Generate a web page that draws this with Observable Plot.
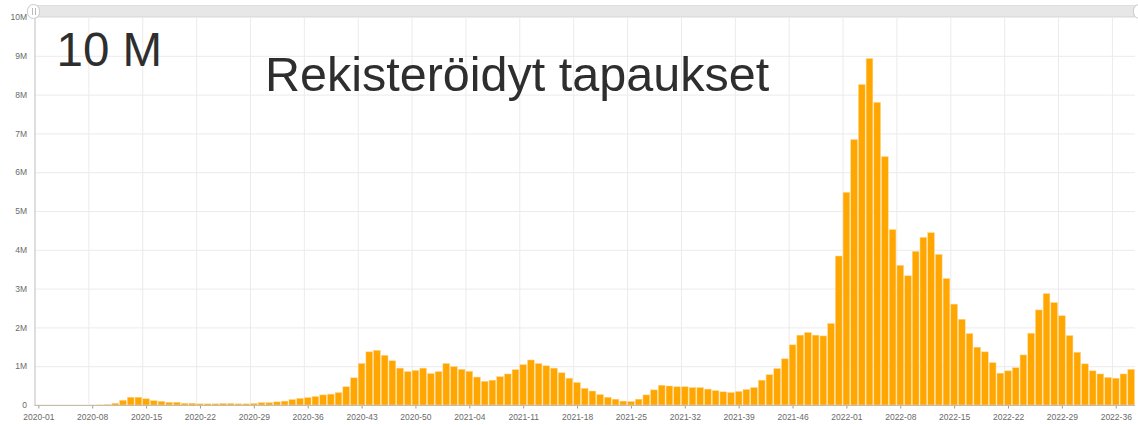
<!DOCTYPE html>
<html>
<head>
<meta charset="utf-8">
<script src="https://cdn.jsdelivr.net/npm/d3@7"></script>
<script src="https://cdn.jsdelivr.net/npm/@observablehq/plot@0.6"></script>
<style>
  html, body { margin: 0; padding: 0; background: #fff; }
  #wrap { position: relative; width: 1138px; height: 425px; overflow: hidden; }
  #slider { position: absolute; left: 33px; top: 5px; width: 1110px; height: 12px; background: #e7e7e7; border: 1px solid #dedede; box-sizing: border-box; }
  .handle { position: absolute; top: 4px; width: 13px; height: 15px; border-radius: 7px; background: #fff; border: 1px solid #c9c9c9; box-sizing: border-box; }
  .handle::after { content: ""; position: absolute; left: 4px; top: 3px; width: 2px; height: 7px; border-left: 1px solid #bbb; border-right: 1px solid #bbb; }
</style>
</head>
<body>
<div id="wrap"></div>
<script>
// ---- data (weekly registered cases, millions) ----
const years = [2020, 2021, 2022];
const weeksPerYear = [53, 52, 38];

const cases2020 = [
  0.001, 0.001, 0.001, 0.001, 0.001, 0.001, 0.001, 0.002, 0.004, 0.012,
  0.045, 0.12, 0.2, 0.2, 0.16, 0.11, 0.095, 0.07, 0.07, 0.045,
  0.045, 0.03, 0.03, 0.03, 0.04, 0.04, 0.03, 0.03, 0.04, 0.06,
  0.06, 0.08, 0.1, 0.14, 0.17, 0.19, 0.22, 0.26, 0.28, 0.32,
  0.47, 0.70, 1.07, 1.37, 1.41, 1.28, 1.14, 0.95, 0.86, 0.89,
  0.95, 0.81, 0.86
];
const cases2021 = [
  1.07, 0.99, 0.92, 0.87, 0.72, 0.61, 0.64, 0.73, 0.80, 0.91,
  1.04, 1.16, 1.07, 1.01, 0.95, 0.83, 0.69, 0.58, 0.43, 0.36,
  0.27, 0.20, 0.15, 0.10, 0.09, 0.15, 0.26, 0.39, 0.51, 0.49,
  0.47, 0.47, 0.45, 0.45, 0.41, 0.37, 0.34, 0.32, 0.35, 0.40,
  0.45, 0.64, 0.78, 0.94, 1.19, 1.55, 1.80, 1.87, 1.80, 1.78,
  2.10, 3.84
];
const cases2022 = [
  5.48, 6.84, 8.26, 8.93, 7.80, 6.40, 4.52, 3.60, 3.33, 3.96,
  4.32, 4.44, 3.88, 3.26, 2.60, 2.21, 1.84, 1.49, 1.37, 1.09,
  0.82, 0.88, 0.96, 1.29, 1.85, 2.45, 2.87, 2.64, 2.30, 1.79,
  1.36, 1.06, 0.88, 0.80, 0.71, 0.69, 0.80, 0.92
];
const yTicks = [0, 1, 2, 3, 4, 5, 6, 7, 8, 9, 10];
const tickEvery = 7;
const titleText = "Rekisteröidyt tapaukset";
const maxText = "10 M";

// ---- build table ----
const weeks = [];
years.forEach((yr, i) => {
  for (let w = 1; w <= weeksPerYear[i]; w++) weeks.push(`${yr}-${String(w).padStart(2, "0")}`);
});
const values = [...cases2020, ...cases2021, ...cases2022];
const data = weeks.map((wk, i) => ({week: wk, cases: values[i]}));
const tickWeeks = weeks.filter((_, i) => i % tickEvery === 0);

const W = 1138, H = 425, mL = 34.5, mR = 3, mT = 17, mB = 20;
const bw = (W - mL - mR) / weeks.length;

const chart = Plot.plot({
  width: W, height: H,
  marginTop: mT, marginBottom: mB, marginLeft: mL, marginRight: mR,
  x: {type: "band", domain: weeks, padding: 0, label: null},
  y: {domain: [0, 10], label: null},
  style: {fontFamily: "'Liberation Sans', Arial, sans-serif", fontSize: "8.5px", color: "#6a6a6a", background: "#fff"},
  marks: [
    Plot.ruleY(yTicks, {stroke: "#ebebeb", strokeWidth: 1}),
    Plot.ruleX(tickWeeks, {x: d => d, dx: -bw / 2, stroke: "#ebebeb", strokeWidth: 1}),
    Plot.barY(data, {x: "week", y: "cases", fill: "#ffa700", stroke: "#ffd68c", strokeWidth: 0.5, insetLeft: 0.5, insetRight: 0.5}),
    Plot.axisY({ticks: yTicks, tickSize: 0, tickPadding: 8, label: null, tickFormat: d => d === 0 ? "0" : d + "M"}),
    Plot.axisX({ticks: tickWeeks, tickSize: 3.5, tickPadding: 5, label: null, stroke: "#9a9a9a"}),
    Plot.ruleY([0], {stroke: "#bdbdbd"}),
    Plot.frame({anchor: "left", stroke: "#c8c8c8"}),
    Plot.text([maxText], {frameAnchor: "top-left", dx: 21.5, dy: 15, lineAnchor: "top", textAnchor: "start",
      fontSize: 47.5, fill: "#2e2e2e", fontFamily: "'Liberation Sans', Arial, sans-serif"}),
    Plot.text([titleText], {frameAnchor: "top-left", dx: 230, dy: 39, lineAnchor: "top", textAnchor: "start",
      fontSize: 48.5, fill: "#2e2e2e", fontFamily: "'Liberation Sans', Arial, sans-serif"})
  ]
});

const wrap = document.getElementById("wrap");
wrap.appendChild(chart);
const slider = document.createElement("div"); slider.id = "slider"; wrap.appendChild(slider);
const hL = document.createElement("div"); hL.className = "handle"; hL.style.left = "27px"; wrap.appendChild(hL);
const hR = document.createElement("div"); hR.className = "handle"; hR.style.left = "1133px"; wrap.appendChild(hR);
</script>
</body>
</html>
